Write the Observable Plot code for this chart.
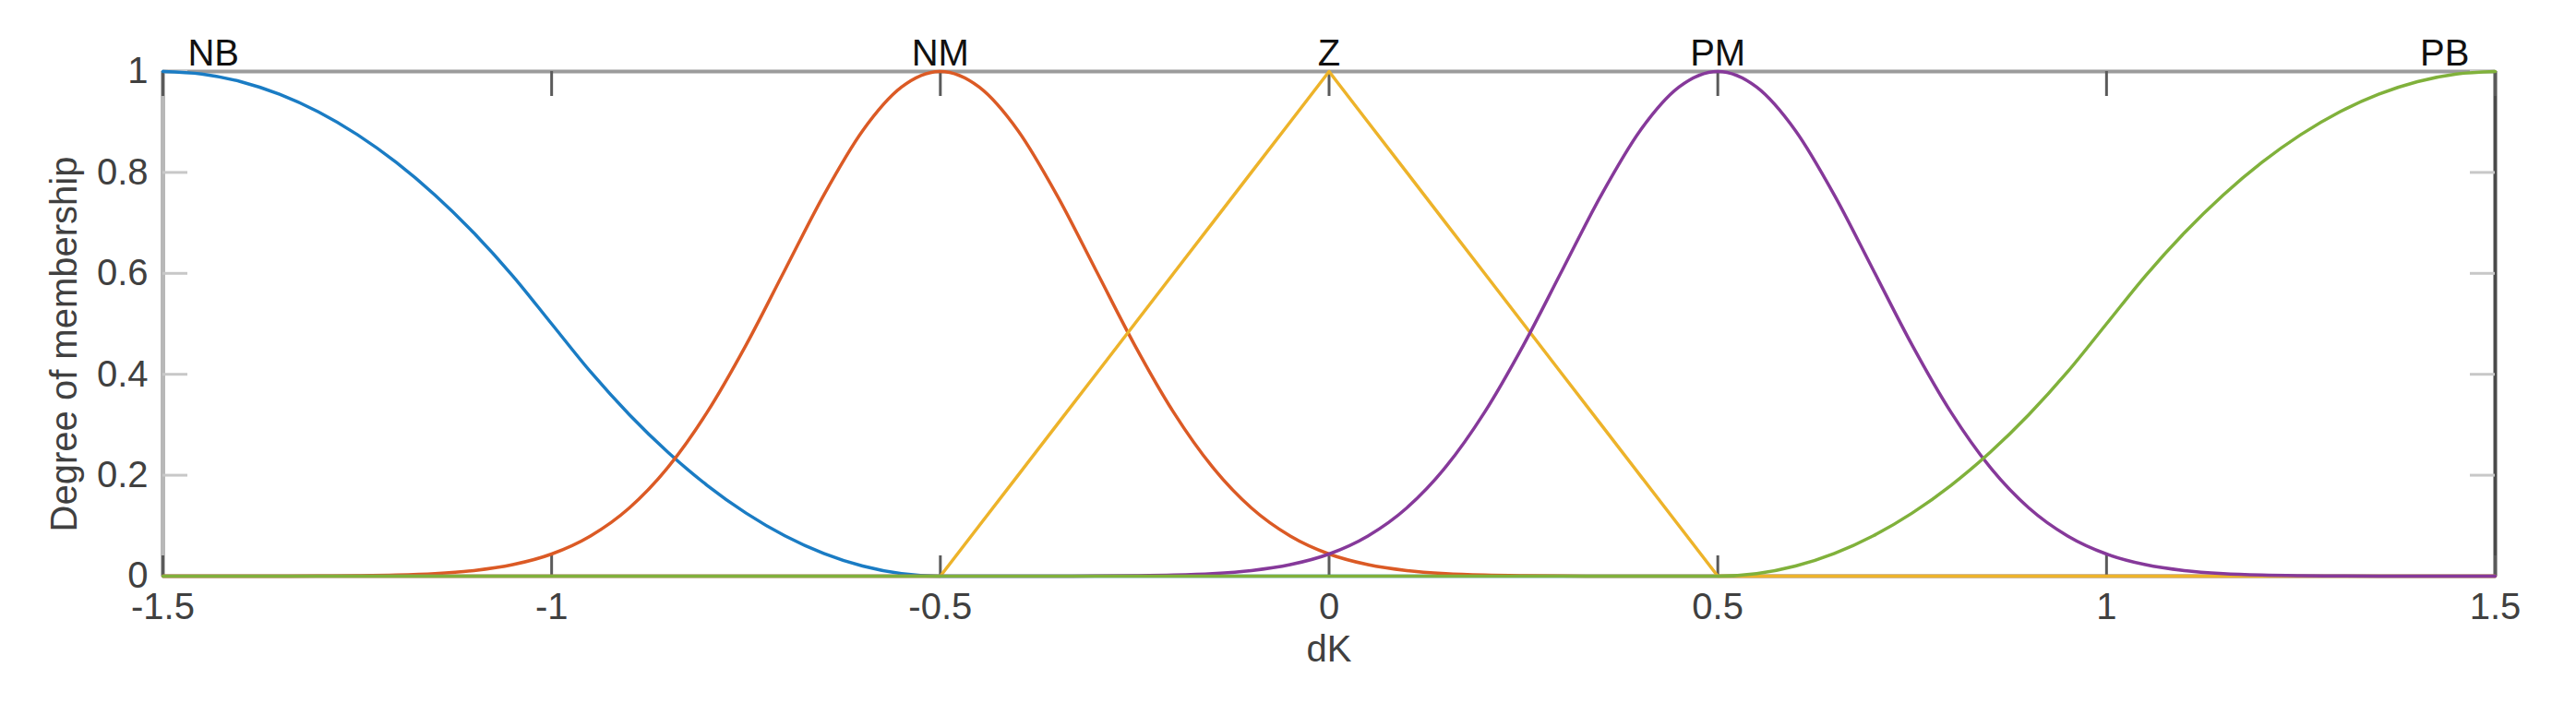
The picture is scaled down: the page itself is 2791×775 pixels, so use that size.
<!DOCTYPE html>
<html>
<head>
<meta charset="utf-8">
<script src="https://cdn.jsdelivr.net/npm/d3@7"></script>
<script src="https://cdn.jsdelivr.net/npm/@observablehq/plot@0.6"></script>
<style>
  html, body { margin: 0; padding: 0; background: #fff; }
  #chart svg { display: block; }
</style>
</head>
<body>
<div id="chart"></div>
<script>
// ---- data ----
const xs = [-1.5,-1.45,-1.4,-1.35,-1.3,-1.25,-1.2,-1.15,-1.1,-1.05,-1,-0.95,-0.9,-0.85,-0.8,-0.75,-0.7,-0.65,-0.6,-0.55,
  -0.5,-0.45,-0.4,-0.35,-0.3,-0.25,-0.2,-0.15,-0.1,-0.05,0,0.05,0.1,0.15,0.2,0.25,0.3,0.35,0.4,0.45,
  0.5,0.55,0.6,0.65,0.7,0.75,0.8,0.85,0.9,0.95,1,1.05,1.1,1.15,1.2,1.25,1.3,1.35,1.4,1.45,1.5];

const nbValues = [1,0.995,0.98,0.955,0.92,0.875,0.82,0.755,0.68,0.595,0.5,0.405,0.32,0.245,0.18,0.125,0.08,0.045,0.02,0.005,
  0,0,0,0,0,0,0,0,0,0,0,0,0,0,0,0,0,0,0,0,
  0,0,0,0,0,0,0,0,0,0,0,0,0,0,0,0,0,0,0,0,0];

const nmValues = [0,0,0,0.0001,0.0003,0.0009,0.0022,0.0051,0.0111,0.0228,0.0439,0.0796,0.1353,0.2163,0.3247,0.4578,0.6065,0.7548,0.8825,0.969,
  1,0.969,0.8825,0.7548,0.6065,0.4578,0.3247,0.2163,0.1353,0.0796,0.0439,0.0228,0.0111,0.0051,0.0022,0.0009,0.0003,0.0001,0,0,
  0,0,0,0,0,0,0,0,0,0,0,0,0,0,0,0,0,0,0,0,0];

const zValues = [0,0,0,0,0,0,0,0,0,0,0,0,0,0,0,0,0,0,0,0,
  0,0.1,0.2,0.3,0.4,0.5,0.6,0.7,0.8,0.9,1,0.9,0.8,0.7,0.6,0.5,0.4,0.3,0.2,0.1,
  0,0,0,0,0,0,0,0,0,0,0,0,0,0,0,0,0,0,0,0,0];

const pmValues = [0,0,0,0,0,0,0,0,0,0,0,0,0,0,0,0,0,0,0,0,
  0,0,0,0.0001,0.0003,0.0009,0.0022,0.0051,0.0111,0.0228,0.0439,0.0796,0.1353,0.2163,0.3247,0.4578,0.6065,0.7548,0.8825,0.969,
  1,0.969,0.8825,0.7548,0.6065,0.4578,0.3247,0.2163,0.1353,0.0796,0.0439,0.0228,0.0111,0.0051,0.0022,0.0009,0.0003,0.0001,0,0,0];

const pbValues = [0,0,0,0,0,0,0,0,0,0,0,0,0,0,0,0,0,0,0,0,
  0,0,0,0,0,0,0,0,0,0,0,0,0,0,0,0,0,0,0,0,
  0,0.005,0.02,0.045,0.08,0.125,0.18,0.245,0.32,0.405,0.5,0.595,0.68,0.755,0.82,0.875,0.92,0.955,0.98,0.995,1];

const mfNames = ["NB", "NM", "Z", "PM", "PB"];
const mfLabelX = [-1.435, -0.5, 0, 0.5, 1.435];
const mfColors = ["#1a7cc4", "#db5a25", "#edb32a", "#86399a", "#80b13b"];

const xTicks = [-1.5, -1, -0.5, 0, 0.5, 1, 1.5];
const xTickLabels = ["-1.5", "-1", "-0.5", "0", "0.5", "1", "1.5"];
const yTicks = [0, 0.2, 0.4, 0.6, 0.8, 1];
const yTickLabels = ["0", "0.2", "0.4", "0.6", "0.8", "1"];

const xLabel = "dK";
const yLabel = "Degree of membership";

// ---- build series ----
const seriesValues = [nbValues, nmValues, zValues, pmValues, pbValues];
const series = mfNames.map((name, i) =>
  xs.map((x, j) => ({name, x, y: seriesValues[i][j]}))
);
const labels = mfNames.map((name, i) => ({name, x: mfLabelX[i], y: 1}));

const W = 2791, H = 775;
const mL = 176, mR = 88, mT = 77, mB = 151;
const innerW = W - mL - mR, innerH = H - mT - mB;

const font = "Liberation Sans, Arial, Helvetica, sans-serif";
const fs = 40;

const lineMarks = series.map((data, i) =>
  Plot.line(data, {
    x: "x", y: "y",
    stroke: mfColors[i],
    strokeWidth: 3.5,
    curve: mfNames[i] === "Z" ? "linear" : "monotone-x"
  })
);

const chart = Plot.plot({
  width: W,
  height: H,
  marginLeft: mL,
  marginRight: mR,
  marginTop: mT,
  marginBottom: mB,
  style: {fontFamily: font, fontSize: fs + "px", background: "#fff", color: "#404040"},
  x: {domain: [-1.5, 1.5]},
  y: {domain: [0, 1]},
  marks: [
    // box
    Plot.ruleY([1], {stroke: "#9b9b9b", strokeWidth: 4}),
    Plot.ruleX([-1.5], {stroke: "#b8b8b8", strokeWidth: 5}),
    Plot.ruleX([1.5], {stroke: "#4a4a4a", strokeWidth: 4}),
    Plot.ruleY([0], {stroke: "#4a4a4a", strokeWidth: 3}),
    // inward tick marks
    Plot.tickX(xTicks, {x: d => d, insetTop: innerH - 22, stroke: "#5a5a5a", strokeWidth: 3}),
    Plot.tickX(xTicks, {x: d => d, insetBottom: innerH - 27, stroke: "#5a5a5a", strokeWidth: 3}),
    Plot.tickY(yTicks, {y: d => d, insetRight: innerW - 27, stroke: "#c8c8c8", strokeWidth: 3}),
    Plot.tickY(yTicks, {y: d => d, insetLeft: innerW - 27, stroke: "#c8c8c8", strokeWidth: 3}),
    // tick labels + axis labels
    Plot.axisX(xTicks, {
      anchor: "bottom", tickSize: 0, tickPadding: 18,
      tickFormat: d => xTickLabels[xTicks.indexOf(d)],
      fontSize: fs, fill: "#404040",
      label: xLabel, labelAnchor: "center", labelArrow: "none", labelOffset: 92
    }),
    Plot.axisY(yTicks, {
      anchor: "left", tickSize: 0, tickPadding: 16,
      tickFormat: d => yTickLabels[yTicks.indexOf(d)],
      fontSize: fs, fill: "#404040",
      label: null
    }),
    Plot.text([yLabel], {
      text: d => d, frameAnchor: "left", rotate: -90,
      textAnchor: "middle", lineAnchor: "middle",
      dx: -106, dy: 22,
      fontSize: fs, fill: "#404040"
    }),
    // membership functions
    ...lineMarks,
    // MF names above the box
    Plot.text(labels, {
      x: "x", y: "y", text: "name",
      lineAnchor: "bottom", dy: -7,
      fontSize: fs, fill: "#111"
    })
  ]
});

document.getElementById("chart").appendChild(chart);
</script>
</body>
</html>
